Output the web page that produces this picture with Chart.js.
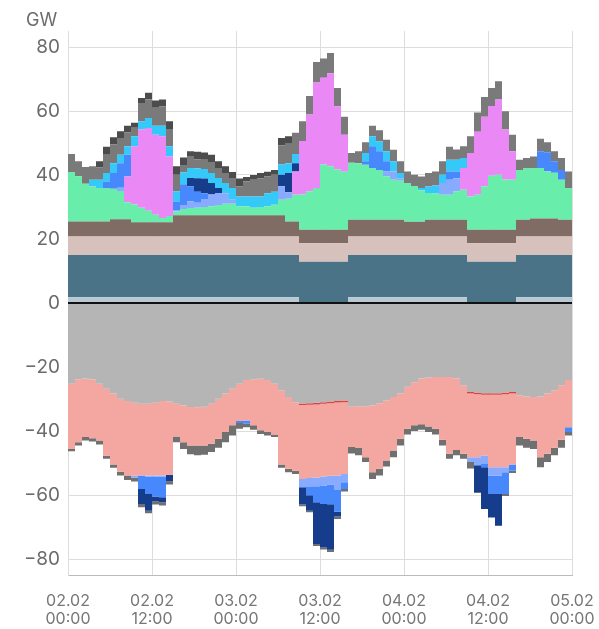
<!DOCTYPE html>
<html>
<head>
<meta charset="utf-8">
<script src="https://cdn.jsdelivr.net/npm/chart.js@4.4.1/dist/chart.umd.min.js"></script>
<style>
    html, body { margin: 0; padding: 0; background: #ffffff; }
    #wrap { width: 599px; height: 629px; }
</style>
</head>
<body>
<div id="wrap"><canvas id="chart"></canvas></div>
<script>
// Hourly values in GW, 02.02 00:00 .. 04.02 23:00 (72 hours)

// Generation (positive stack, bottom to top)
const posLight = [
    1.8, 1.8, 1.8, 1.8, 1.8, 1.8, 1.8, 1.8, 1.8, 1.8, 1.8, 1.8,
    1.8, 1.8, 1.8, 1.8, 1.8, 1.8, 1.8, 1.8, 1.8, 1.8, 1.8, 1.8,
    1.8, 1.8, 1.8, 1.8, 1.8, 1.8, 1.8, 1.8, 1.8, 0, 0, 0,
    0, 0, 0, 0, 1.8, 1.8, 1.8, 1.8, 1.8, 1.8, 1.8, 1.8,
    1.8, 1.8, 1.8, 1.8, 1.8, 1.8, 1.8, 1.8, 1.8, 0, 0, 0,
    0, 0, 0, 0, 1.8, 1.8, 1.8, 1.8, 1.8, 1.8, 1.8, 1.8
];
const posTeal = [
    13.2, 13.2, 13.2, 13.2, 13.2, 13.2, 13.2, 13.2, 13.2, 13.2, 13.2, 13.2,
    13.2, 13.2, 13.2, 13.2, 13.2, 13.2, 13.2, 13.2, 13.2, 13.2, 13.2, 13.2,
    13.2, 13.2, 13.2, 13.2, 13.2, 13.2, 13.2, 13.2, 13.2, 12.9, 12.9, 12.9,
    12.9, 12.9, 12.9, 12.9, 13.2, 13.2, 13.2, 13.2, 13.2, 13.2, 13.2, 13.2,
    13.2, 13.2, 13.2, 13.2, 13.2, 13.2, 13.2, 13.2, 13.2, 12.9, 12.9, 12.9,
    12.9, 12.9, 12.9, 12.9, 13.2, 13.2, 13.2, 13.2, 13.2, 13.2, 13.2, 13.2
];
const posBeige = [
    5.8, 5.8, 5.8, 5.8, 5.8, 5.8, 5.8, 5.8, 5.8, 5.8, 5.8, 5.8,
    5.8, 5.8, 5.8, 5.8, 5.8, 5.8, 5.8, 5.8, 5.8, 5.8, 5.8, 5.8,
    5.8, 5.8, 5.8, 5.8, 5.8, 5.8, 5.8, 5.8, 5.8, 5.8, 5.8, 5.8,
    5.8, 5.8, 5.8, 5.8, 5.8, 5.8, 5.8, 5.8, 5.8, 5.8, 5.8, 5.8,
    5.8, 5.8, 5.8, 5.8, 5.8, 5.8, 5.8, 5.8, 5.8, 5.8, 5.8, 5.8,
    5.8, 5.8, 5.8, 5.8, 5.8, 5.8, 5.8, 5.8, 5.8, 5.8, 5.8, 5.8
];
const posBrown = [
    4.7, 4.7, 4.7, 4.7, 4.7, 4.7, 5.4, 5.4, 5.4, 4.4, 4.4, 4.4,
    4.4, 4.4, 4.4, 6.6, 6.6, 6.6, 6.6, 6.6, 6.6, 6.6, 6.6, 6.6,
    6.6, 6.6, 6.6, 6.6, 6.6, 6.6, 6.6, 4.7, 4.7, 4.2, 4.2, 4.2,
    4.2, 4.2, 4.2, 4.2, 5.2, 5.2, 5.2, 5.2, 5.2, 5.2, 5.2, 5.2,
    4.6, 4.6, 4.6, 5.2, 5.2, 5.2, 5.2, 5.2, 5.2, 4.2, 4.2, 4.2,
    4.2, 4.2, 4.2, 4.2, 5.2, 5.2, 5.6, 5.6, 5.6, 5.6, 5.2, 5.2
];
const posGreen = [
    15.4, 14.1, 11.8, 10.9, 10.4, 10.4, 9.5, 8.8, 5.3, 5.6, 4.6, 3.6,
    2.4, 1.4, 2.0, 1.2, 2.0, 2.3, 2.4, 2.6, 2.8, 3.2, 3.6, 3.6,
    2.8, 2.8, 2.4, 2.6, 2.8, 3.3, 4.9, 7.1, 8.3, 11.0, 12.0, 13.0,
    20.4, 19.8, 18.8, 18.1, 17.8, 17.7, 17.2, 16.2, 15.6, 13.6, 12.5, 12.2,
    12.1, 11.2, 9.8, 8.4, 8.2, 7.8, 7.8, 8.9, 9.4, 10.4, 10.9, 13.6,
    16.9, 17.2, 15.7, 15.6, 15.6, 16.0, 15.8, 15.8, 14.8, 14.3, 12.5, 9.9
];
const posSolar = [
    0, 0, 0, 0, 0, 0, 0, 0, 8.0, 18.2, 24.4, 25.9,
    25.0, 25.5, 18.6, 0, 0, 0, 0, 0, 0, 0, 0, 0,
    0, 0, 0, 0, 0, 0, 0, 0, 7.3, 16.7, 24.0, 33.0,
    27.1, 29.1, 19.8, 11.6, 0, 0, 0, 0, 0, 0, 0, 0,
    0, 0, 0, 0, 0, 0, 0, 0, 6.8, 13.6, 19.7, 21.7,
    21.8, 23.5, 15.6, 8.9, 0, 0, 0, 0, 0, 0, 0, 0
];
const posLightBlue = [
    0, 0, 0, 0, 0, 0, 0, 1.0, 0, 0, 0, 0,
    0, 0, 0, 0.5, 1.2, 2.1, 1.5, 2.5, 3.7, 3.8, 3.3, 1.3,
    0, 0, 0, 0, 0, 0, 4.2, 2.0, 0, 0, 0, 0,
    0, 0, 0, 0, 0, 0, 0, 0, 0, 1.5, 2.6, 0.8,
    0, 0, 0, 0, 0, 3.7, 4.7, 4.1, 0, 0, 0, 0,
    0, 0, 0, 0, 0, 0, 0, 0, 0, 0, 0, 0
];
const posBlue = [
    0, 0, 0, 0, 0, 2.1, 4.9, 7.7, 6.8, 0, 0, 0,
    0, 0, 0, 2.6, 6.5, 4.7, 3.5, 1.8, 0, 0, 0, 0,
    0, 0, 0, 0, 0, 0, 0, 0, 0, 0, 0, 0,
    0, 0, 0, 0, 0, 0, 1.1, 6.8, 5.8, 3.2, 0, 0,
    0, 0, 0, 0, 0, 0, 2.6, 2.1, 0, 0, 0, 0,
    0, 0, 0, 0, 0, 0, 0, 5.2, 5.9, 3.6, 3.1, 0
];
const posNavy = [
    0, 0, 0, 0, 0, 0, 0, 0, 0, 0, 0, 0,
    0, 0, 0, 0, 0, 2.6, 4.2, 4.6, 3.6, 1.5, 0, 0,
    0, 0, 0, 0, 0, 0, 3.6, 6.0, 2.6, 0, 0, 0,
    0, 0, 0, 0, 0, 0, 0, 0, 0, 0, 0, 0,
    0, 0, 0, 0, 0, 0, 0, 0, 0, 0, 0, 0,
    0, 0, 0, 0, 0, 0, 0, 0, 0, 0, 0, 0
];
const posCyan = [
    0, 0, 0, 2.1, 2.6, 2.6, 3.1, 2.6, 2.7, 3.1, 2.6, 3.1,
    2.8, 3.3, 3.2, 3.2, 3.7, 3.1, 3.1, 3.0, 3.1, 3.2, 3.2, 3.6,
    3.1, 3.1, 3.5, 3.3, 4.1, 4.1, 3.2, 3.1, 2.9, 0, 0, 0,
    0, 0, 0, 0, 0, 0, 2.6, 3.1, 3.1, 3.1, 3.2, 1.6,
    0, 0, 0.7, 2.0, 2.5, 2.6, 3.7, 3.7, 3.1, 0, 0, 0,
    0, 0, 0, 0, 0, 0, 0, 0, 0, 0, 0, 0
];
const posGrey = [
    5.7, 4.7, 5.2, 4.2, 3.9, 5.7, 5.8, 5.0, 4.3, 2.7, 5.7, 5.8,
    5.6, 6.1, 5.4, 5.2, 2.3, 3.7, 2.8, 2.9, 3.5, 3.1, 3.1, 3.2,
    3.1, 4.7, 5.2, 5.7, 5.2, 5.3, 6.0, 6.1, 6.6, 6.2, 5.8, 6.4,
    6.0, 6.3, 5.7, 5.6, 3.1, 3.7, 3.3, 3.3, 3.5, 3.6, 3.6, 3.7,
    3.6, 3.5, 3.6, 4.2, 4.4, 4.2, 4.0, 3.2, 3.7, 5.2, 6.0, 6.2,
    5.6, 5.7, 5.7, 5.2, 3.2, 3.3, 3.6, 3.9, 3.1, 3.1, 3.7, 5.2
];
const posDarkGrey = [
    0, 0, 0, 0, 1.9, 2.5, 2.3, 2.4, 2.1, 1.5, 1.6, 2.1,
    2.3, 2.1, 2.4, 2.6, 2.4, 1.5, 2.4, 2.2, 2.2, 2.1, 2.1, 1.8,
    2.5, 1.4, 1.5, 1.6, 1.5, 1.5, 2.3, 2.3, 0, 0, 0, 0,
    0, 0, 0, 0, 0, 0, 0, 0, 0, 0, 0, 0,
    0, 0, 0, 0, 0, 0, 0, 0, 0, 0, 0, 0,
    0, 0, 0, 0, 0, 0, 0, 0, 0, 0, 0, 0
];

// Consumption (negative stack, top to bottom)
const negGrey = [
    -25.2, -23.8, -23.6, -23.9, -25.2, -26.8, -28.3, -29.9, -30.6, -31.2, -31.5, -31.5,
    -31.2, -30.6, -30.8, -31.5, -32.0, -32.5, -32.6, -32.4, -31.5, -29.9, -28.3, -26.8,
    -25.2, -24.1, -23.8, -23.7, -24.1, -25.2, -27.3, -29.4, -31.0, -31.4, -31.3, -31.2,
    -31.0, -30.8, -30.6, -30.5, -32.4, -32.3, -32.3, -32.0, -31.3, -30.4, -29.4, -28.3,
    -26.2, -24.8, -23.6, -23.3, -23.1, -23.1, -23.1, -23.6, -25.7, -27.8, -28.0, -28.2,
    -28.2, -28.2, -28.0, -27.8, -28.8, -29.2, -29.4, -29.2, -28.3, -27.3, -25.7, -24.1
];
const negRed = [
    0, 0, 0, 0, 0, 0, 0, 0, 0, 0, 0, 0,
    0, 0, 0, 0, 0, 0, 0, 0, 0, 0, 0, 0,
    0, 0, 0, 0, 0, 0, 0, 0, 0, -0.5, -0.5, -0.5,
    -0.5, -0.5, -0.5, -0.5, 0, 0, 0, 0, 0, 0, 0, 0,
    0, 0, 0, 0, 0, 0, 0, 0, 0, -0.5, -0.5, -0.5,
    -0.5, -0.5, -0.5, -0.5, 0, 0, 0, 0, 0, 0, 0, 0
];
const negSalmon = [
    -20.4, -19.7, -18.3, -18.4, -17.8, -20.9, -22.2, -22.8, -23.3, -22.8, -22.4, -22.4,
    -22.7, -23.3, -22.9, -10.2, -11.5, -12.0, -11.9, -12.1, -12.5, -12.5, -12.0, -11.4,
    -11.7, -12.6, -14.4, -16.1, -16.2, -15.9, -23.2, -22.4, -21.4, -23.1, -22.9, -22.8,
    -22.8, -22.7, -22.8, -22.4, -12.6, -13.0, -15.9, -20.9, -20.5, -18.8, -16.7, -14.1,
    -13.1, -13.4, -14.3, -15.3, -16.2, -19.6, -24.0, -22.3, -21.4, -19.9, -19.7, -19.0,
    -22.6, -22.6, -22.8, -22.2, -13.1, -13.2, -13.6, -19.0, -18.8, -17.9, -17.0, -14.7
];
const negLightBlue = [
    0, 0, 0, 0, 0, 0, 0, 0, 0, -0.6, 0, -0.3,
    -0.3, -0.3, 0, 0, 0, 0, 0, 0, 0, 0, 0, 0,
    0, 0, 0, 0, 0, 0, 0, 0, 0, -2.6, -2.8, -2.8,
    -2.7, -2.7, -4.5, -2.6, 0, 0, 0, 0, 0, 0, 0, 0,
    0, 0, 0, 0, 0, 0, 0, 0, 0, -1.5, -2.5, -2.6,
    -2.6, -2.7, -1.6, 0, 0, 0, 0, 0, 0, 0, 0, 0
];
const negBlue = [
    0, 0, 0, 0, 0, 0, 0, 0, 0, 0, -4.2, -5.5,
    -6.3, -6.5, 0, 0, 0, 0, 0, 0, 0, 0, 0, 0,
    -0.6, -1.0, 0, 0, 0, 0, 0, 0, 0, 0, -2.6, -5.0,
    -5.8, -6.2, -6.8, -2.1, 0, 0, 0, 0, 0, 0, 0, 0,
    0, 0, 0, 0, 0, 0, 0, 0, 0, 0, 0, -1.0,
    -5.8, -5.7, -6.8, -1.9, 0, 0, 0, 0, 0, 0, 0, -1.5
];
const negNavy = [
    0, 0, 0, 0, 0, 0, 0, 0, 0, 0, -4.7, -5.2,
    -1.5, -1.6, -2.0, 0, 0, 0, 0, 0, 0, 0, 0, 0,
    0, 0, 0, 0, 0, 0, 0, 0, 0, -5.4, -4.8, -13.0,
    -13.6, -14.2, -1.5, 0, 0, 0, 0, 0, 0, 0, 0, 0,
    0, 0, 0, 0, 0, 0, 0, 0, 0, 0, -8.4, -13.1,
    -7.3, -9.9, 0, 0, 0, 0, 0, 0, 0, 0, 0, 0
];
const negDarkGrey = [
    -0.7, -1.0, -1.1, -1.0, -1.2, -1.0, -1.0, -1.2, -1.4, -1.2, -1.0, -0.8,
    -1.0, -1.0, -1.0, -1.8, -2.1, -2.8, -3.1, -2.9, -2.6, -2.8, -3.2, -3.2,
    -1.8, -1.1, -1.4, -1.1, -1.1, -0.8, -1.0, -1.1, -1.0, -0.5, -0.5, -0.6,
    -0.6, -0.7, -0.8, -0.8, -2.0, -2.3, -1.5, -2.1, -2.1, -1.9, -2.1, -2.1,
    -1.8, -1.8, -1.7, -1.7, -1.8, -1.8, -1.6, -1.7, -1.6, -2.0, -0.3, 0,
    0, 0, -0.6, -0.7, -2.6, -2.8, -2.6, -3.1, -2.6, -2.4, -2.5, -1.1
];

// Axes
const xTickHours = [0, 12, 24, 36, 48, 60, 72];
const xTickLabels = [
    ['02.02', '00:00'], ['02.02', '12:00'], ['03.02', '00:00'], ['03.02', '12:00'],
    ['04.02', '00:00'], ['04.02', '12:00'], ['05.02', '00:00']
];
const yTickValues = [-80, -60, -40, -20, 0, 20, 40, 60, 80];

const COLORS = {
    light: '#b8c9d4',
    teal: '#4b7387',
    beige: '#d6c1bd',
    brown: '#806b65',
    green: '#68eeaa',
    solar: '#ea88f6',
    lightBlue: '#88aaff',
    blue: '#4788fc',
    navy: '#153d8c',
    cyan: '#35c9fa',
    grey: '#7a7a7a',
    darkGrey: '#4c4c4c',
    negGrey: '#b5b5b5',
    red: '#e04040',
    salmon: '#f4a6a1',
    negDarkGrey: '#707070'
};

// Repeat the last hour so the final step spans 23:00 - 24:00
const toPoints = (values) => values.concat([values[values.length - 1]]).map((v, i) => ({ x: i, y: v }));

const makeDataset = (label, values, color, stack, fill) => ({
    label: label,
    data: toPoints(values),
    stack: stack,
    fill: fill,
    backgroundColor: color,
    borderColor: 'rgba(0,0,0,0)',
    borderWidth: 0,
    pointRadius: 0,
    tension: 0,
    stepped: true
});

const positiveSeries = [
    ['light', posLight, COLORS.light],
    ['teal', posTeal, COLORS.teal],
    ['beige', posBeige, COLORS.beige],
    ['brown', posBrown, COLORS.brown],
    ['green', posGreen, COLORS.green],
    ['solar', posSolar, COLORS.solar],
    ['lightBlue', posLightBlue, COLORS.lightBlue],
    ['blue', posBlue, COLORS.blue],
    ['navy', posNavy, COLORS.navy],
    ['cyan', posCyan, COLORS.cyan],
    ['grey', posGrey, COLORS.grey],
    ['darkGrey', posDarkGrey, COLORS.darkGrey]
];
const negativeSeries = [
    ['negGrey', negGrey, COLORS.negGrey],
    ['negRed', negRed, COLORS.red],
    ['negSalmon', negSalmon, COLORS.salmon],
    ['negLightBlue', negLightBlue, COLORS.lightBlue],
    ['negBlue', negBlue, COLORS.blue],
    ['negNavy', negNavy, COLORS.navy],
    ['negDarkGrey', negDarkGrey, COLORS.negDarkGrey]
];

const datasets = [
    ...positiveSeries.map(([l, v, c], i) => makeDataset(l, v, c, 'pos', i === 0 ? 'origin' : '-1')),
    ...negativeSeries.map(([l, v, c], i) => makeDataset(l, v, c, 'neg', i === 0 ? 'origin' : '-1'))
];

// Black zero line drawn above the areas
const zeroLine = {
    id: 'zeroLine',
    afterDatasetsDraw: (chart) => {
        const { ctx, chartArea, scales } = chart;
        const y = Math.round(scales.y.getPixelForValue(0));
        ctx.save();
        ctx.strokeStyle = '#111111';
        ctx.lineWidth = 2;
        ctx.beginPath();
        ctx.moveTo(chartArea.left, y);
        ctx.lineTo(chartArea.right, y);
        ctx.stroke();
        ctx.restore();
    }
};

const config = {
    type: 'line',
    data: { datasets: datasets },
    options: {
        responsive: true,
        maintainAspectRatio: false,
        animation: false,
        events: [],
        layout: { padding: { left: 26, right: 27, top: 0, bottom: 0 } },
        plugins: {
            legend: { display: false },
            tooltip: { enabled: false },
            title: {
                display: true,
                text: 'GW',
                align: 'start',
                color: '#6b6b6b',
                font: { family: 'Inter', size: 18, weight: 'normal', lineHeight: '20px' },
                padding: { top: 11, bottom: 0 }
            }
        },
        scales: {
            x: {
                type: 'linear',
                min: 0,
                max: 72,
                afterBuildTicks: (scale) => { scale.ticks = xTickHours.map(v => ({ value: v })); },
                afterFit: (scale) => {
                    // labels may overhang the plot; keep the plot edges fixed
                    scale.height = 54;
                    scale.paddingLeft = 0;
                    scale.paddingRight = 0;
                },
                ticks: {
                    callback: (value, index) => xTickLabels[index],
                    autoSkip: false,
                    maxRotation: 0,
                    padding: 17,
                    color: '#777777',
                    font: { family: 'Inter', size: 16, lineHeight: 1.15 }
                },
                grid: { color: '#dddddd', drawTicks: false },
                border: { color: '#bbbbbb' }
            },
            y: {
                type: 'linear',
                stacked: true,
                min: -85,
                max: 85,
                afterBuildTicks: (scale) => { scale.ticks = yTickValues.map(v => ({ value: v })); },
                afterFit: (scale) => {
                    scale.width = 42;
                    scale.paddingTop = 0;
                    scale.paddingBottom = 0;
                },
                ticks: {
                    callback: (value) => String(value).replace('-', '\u2212'),
                    padding: 8,
                    color: '#6b6b6b',
                    font: { family: 'Inter', size: 19 }
                },
                grid: { color: '#dddddd', drawTicks: false },
                border: { color: '#dddddd' }
            }
        }
    },
    plugins: [zeroLine]
};

new Chart(document.getElementById('chart'), config);
</script>
</body>
</html>
